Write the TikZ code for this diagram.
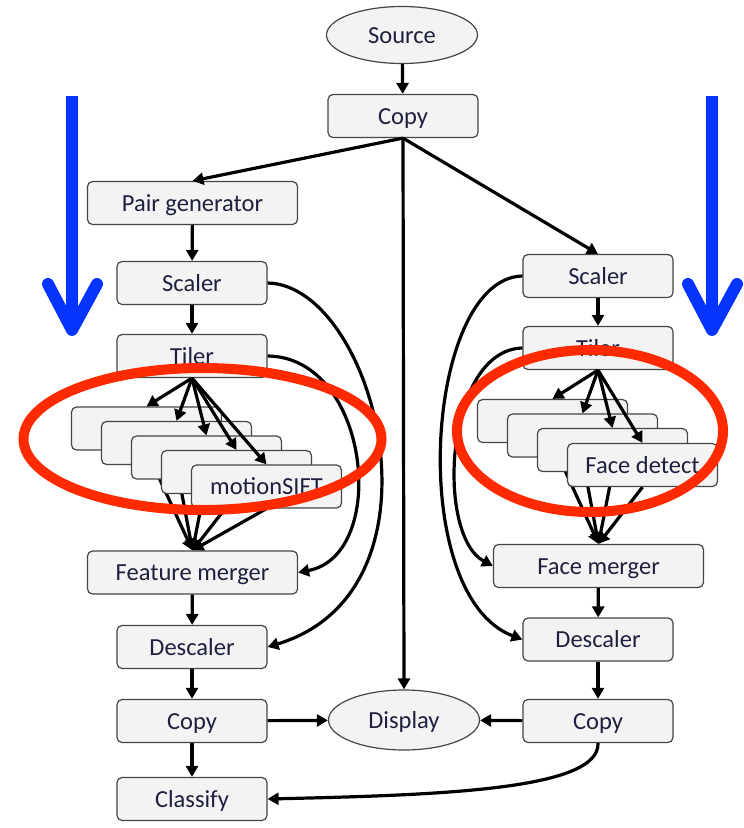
\documentclass[tikz,border=0pt]{standalone}
\usepackage{fontspec}
\setmainfont{Carlito}
\usetikzlibrary{shapes.geometric,arrows.meta}
\pgfdeclarelayer{back}
\pgfsetlayers{back,main}

\definecolor{boxfill}{HTML}{F3F3F3}
\definecolor{boxline}{HTML}{454545}
\definecolor{txt}{HTML}{1F2040}
\definecolor{ringred}{HTML}{FF2A00}
\definecolor{arrowblue}{HTML}{0533FF}

\tikzset{
  stage/.style={draw=boxline, line width=1.2pt, fill=boxfill, rounded corners=5pt,
    minimum width=150pt, minimum height=43pt, inner sep=0pt, text=txt,
    text height=18pt, text depth=2pt,
    font=\fontsize{24.5pt}{28pt}\selectfont},
  widestage/.style={stage, minimum width=210pt},
  endpoint/.style={ellipse, draw=boxline, line width=1.2pt, fill=boxfill,
    minimum width=151pt, minimum height=57pt, inner sep=0pt, text=txt,
    text height=18pt, text depth=2pt,
    font=\fontsize{24.5pt}{28pt}\selectfont},
  flow/.style={line width=3.2pt, -{Triangle[length=11pt,width=12pt]}},
  ring/.style={draw=ringred, line width=10pt},
  bigarrow/.style={draw=arrowblue, line width=12pt},
}

\begin{document}
\begin{tikzpicture}[x=1pt,y=-1pt]
\useasboundingbox (0,0) rectangle (744,828);

% centre column
\node[endpoint] (src) at (402,35) {Source};
\node[stage] (copy) at (403,116) {Copy};
\node[endpoint, minimum height=60pt] (disp) at (404,720) {Display};

% left pipeline
\node[widestage] (pair) at (192.5,203) {Pair generator};
\node[stage] (scL) at (192,283) {Scaler};
\node[stage] (tiL) at (192,356) {Tiler};
\node[stage] (fL1) at (146.5,428.5) {};
\node[stage] (fL2) at (176.5,443) {};
\node[stage] (fL3) at (206.5,457.5) {};
\node[stage] (fL4) at (236.5,472) {};
\node[stage] (fL5) at (266.5,486.5) {motionSIFT};
\node[widestage] (mL) at (192.5,572.5) {Feature merger};
\node[stage] (dsL) at (192,647) {Descaler};
\node[stage] (cpL) at (192,721) {Copy};
\node[stage] (cls) at (192,799) {Classify};

% right pipeline
\node[stage] (scR) at (598,276) {Scaler};
\node[stage] (tiR) at (598,348) {Tiler};
\node[stage] (fR1) at (552.5,421) {};
\node[stage] (fR2) at (582.5,435.5) {};
\node[stage] (fR3) at (612.5,450) {};
\node[stage] (fR4) at (642.5,465) {Face detect};
\node[widestage] (mR) at (598.5,566) {Face merger};
\node[stage] (dsR) at (598,639.5) {Descaler};
\node[stage] (cpR) at (598,721) {Copy};

% tile outputs run underneath the stacked boxes
\begin{pgfonlayer}{back}
  \foreach \t in {fL1,fL2,fL3,fL4,fL5} \draw[flow] (\t.south) -- (mL.north);
  \foreach \t in {fR1,fR2,fR3,fR4} \draw[flow] (\t.south) -- (mR.north);
\end{pgfonlayer}

% straight connectors
\draw[flow] (src) -- (copy);
\draw[flow] (copy.south) -- (pair.north);
\draw[flow] (copy.south) -- (disp.north);
\draw[flow] (copy.south) -- (scR.north);
\draw[flow] (pair) -- (scL);
\draw[flow] (scL) -- (tiL);
\draw[flow] (mL) -- (dsL);
\draw[flow] (dsL) -- (cpL);
\draw[flow] (cpL) -- (cls);
\draw[flow] (cpL) -- (disp);
\draw[flow] (scR) -- (tiR);
\draw[flow] (mR) -- (dsR);
\draw[flow] (dsR) -- (cpR);
\draw[flow] (cpR) -- (disp);

% tiler fan-out
\foreach \t in {fL1,fL2,fL3,fL4,fL5} \draw[flow] (tiL.south) -- (\t.north);
\foreach \t in {fR1,fR2,fR3,fR4} \draw[flow] (tiR.south) -- (\t.north);

% bypass curves
\draw[flow] (scL.east) .. controls (375,285) and (455,590) .. (dsL.east);
\draw[flow] (tiL.east) .. controls (370,357) and (390,555) .. (mL.east);
\draw[flow] (scR.west) .. controls (425,278) and (405,595) .. (dsR.west);
\draw[flow] (tiR.west) .. controls (445,350) and (435,535) .. (mR.west);
\draw[flow] (cpR.south) .. controls (600,790) and (440,795) .. (cls.east);

% highlight rings
\draw[ring] (202.5,439) ellipse [x radius=179pt, y radius=71pt];
\draw[ring] (590,431) ellipse [x radius=133pt, y radius=81pt];

% direction arrows
\draw[bigarrow] (72,96) -- (72,328);
\draw[bigarrow, line cap=round, line join=round] (48,284) -- (72,330) -- (97,284);
\draw[bigarrow] (712,96) -- (712,328);
\draw[bigarrow, line cap=round, line join=round] (688,284) -- (712,330) -- (737,284);
\end{tikzpicture}
\end{document}
